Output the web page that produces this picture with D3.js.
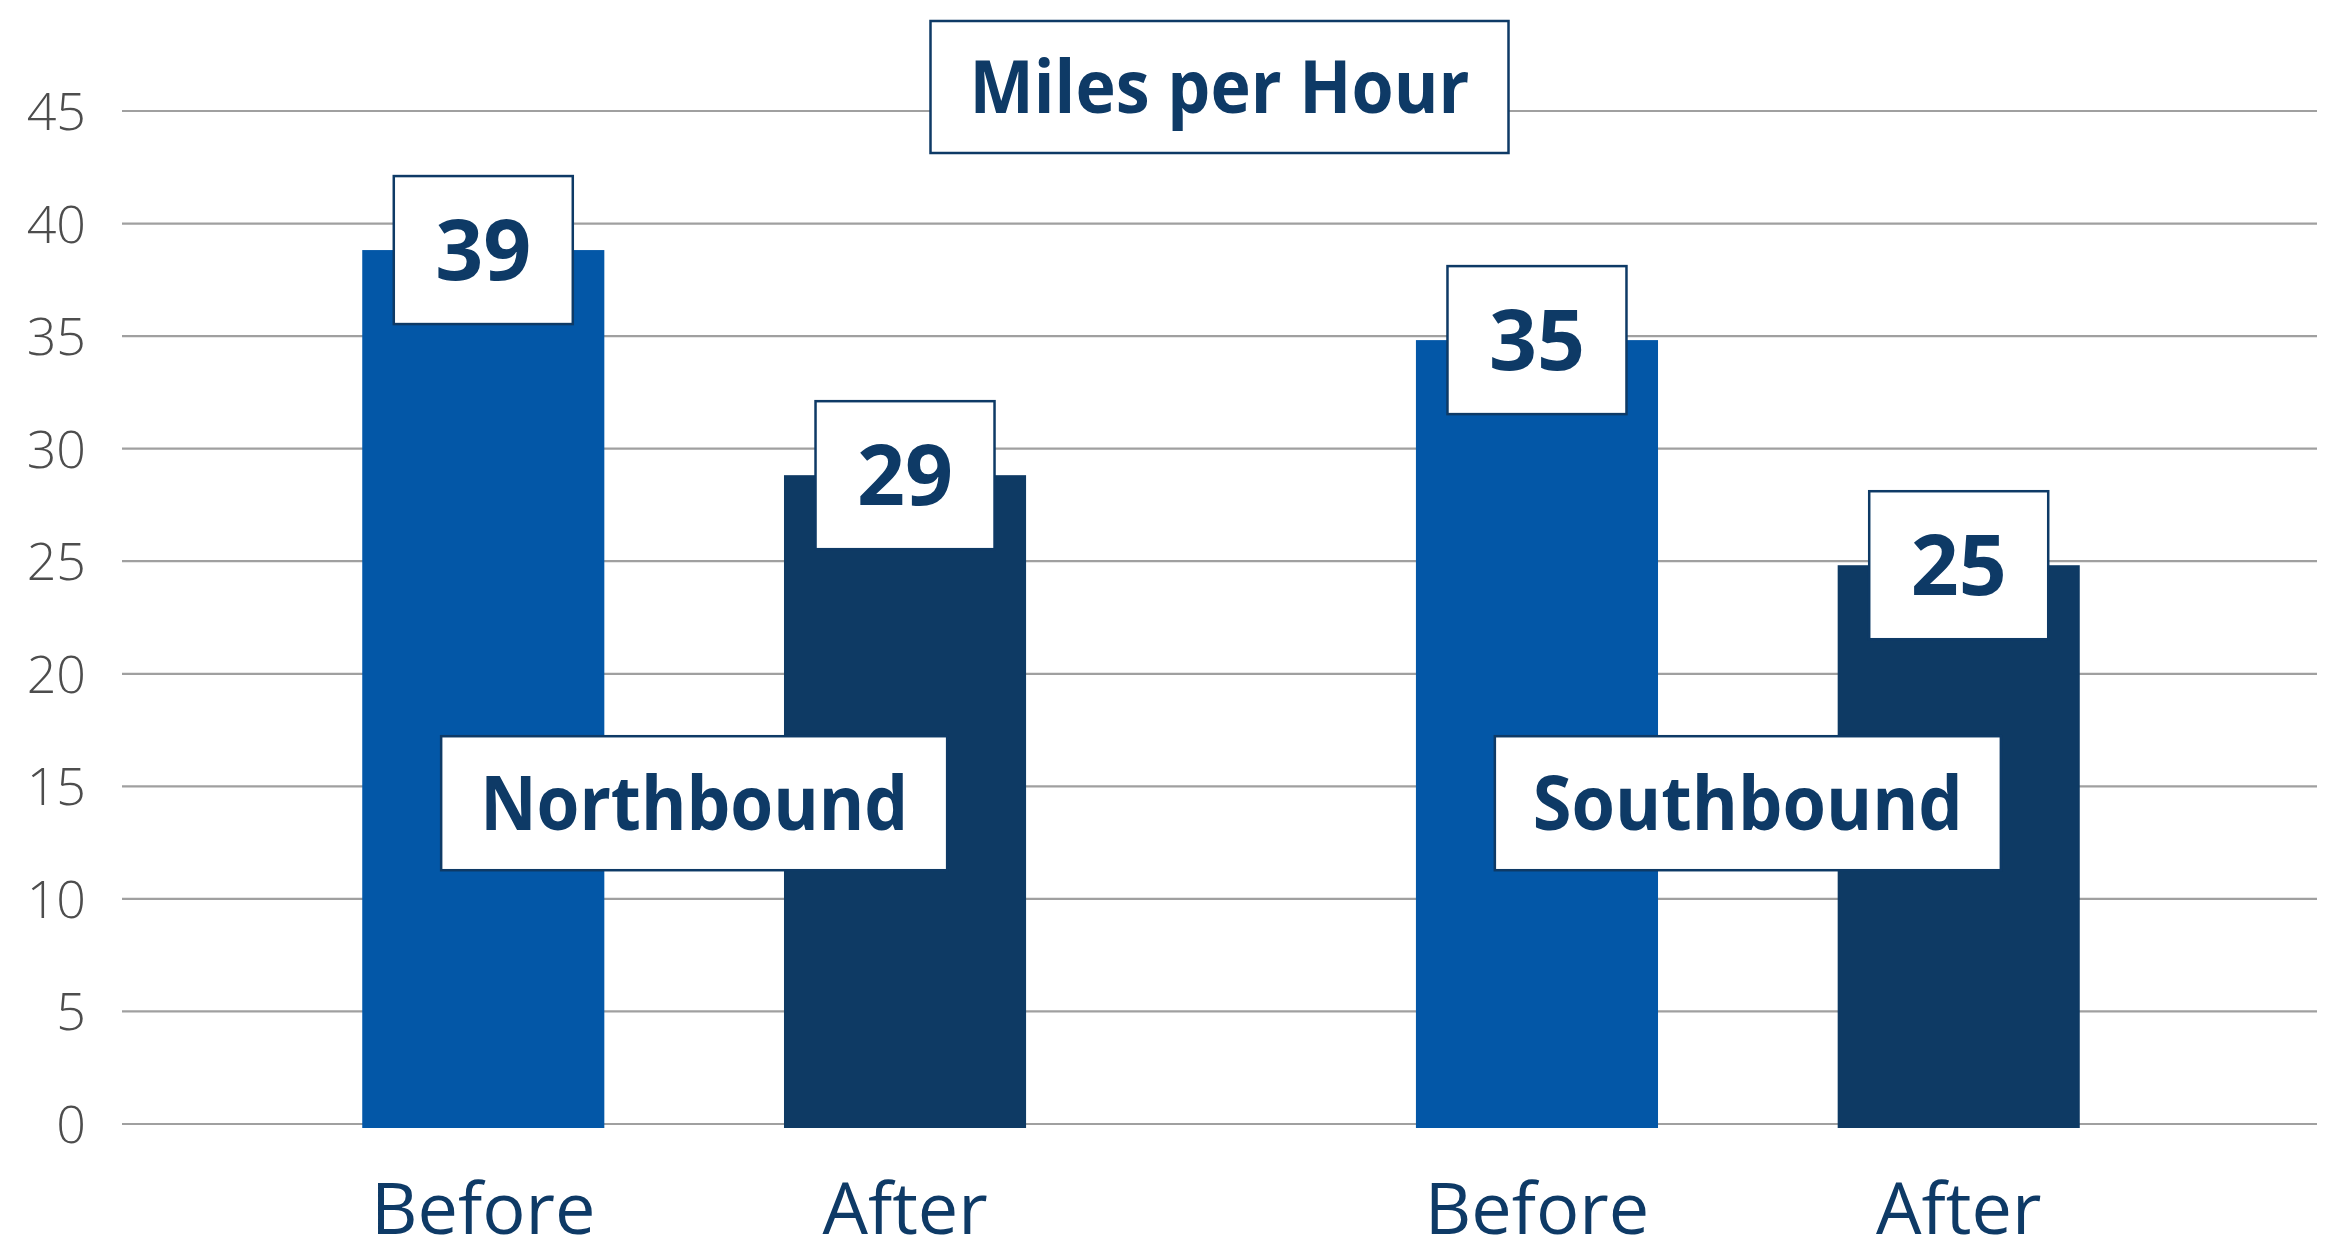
<!DOCTYPE html>
<html>
<head>
<meta charset="utf-8">
<script src="https://cdn.jsdelivr.net/npm/d3@7"></script>
<style>
  html, body { margin: 0; padding: 0; background: #fff; }
  svg { display: block; font-family: "Open Sans", sans-serif; }
</style>
</head>
<body>
<svg id="chart" width="2336" height="1246"></svg>
<script>
const groups = ["Northbound", "Southbound"];
const periods = ["Before", "After"];
const northbound = [39, 29];
const southbound = [35, 25];
const yTicks = [0, 5, 10, 15, 20, 25, 30, 35, 40, 45];
const title = "Miles per Hour";

const values = { Northbound: northbound, Southbound: southbound };
const colors = { Before: "#0357a7", After: "#0e3a64" };
const navy = "#0e3a66";

const svg = d3.select("#chart");
const left = 122, right = 2317;
const barShift = 4; // bars sit a few px lower than the grid in the original

const y = d3.scaleLinear().domain([0, 45]).range([1124, 111]);

// outer band = direction, inner band = before / after
const x0 = d3.scaleBand().domain(groups).range([left, right + 3])
    .paddingInner(0.37).paddingOuter(0.228);
const x1 = d3.scaleBand().domain(periods).range([0, x0.bandwidth()])
    .paddingInner(0.426).paddingOuter(0);

// gridlines
svg.append("g")
    .selectAll("line")
    .data(yTicks)
    .join("line")
    .attr("x1", left).attr("x2", right)
    .attr("y1", d => y(d)).attr("y2", d => y(d))
    .attr("stroke", "#a0a0a0")
    .attr("stroke-width", 2.2);

// tick labels
svg.append("g")
    .selectAll("text")
    .data(yTicks)
    .join("text")
    .attr("x", 86)
    .attr("y", d => y(d) + 19)
    .attr("text-anchor", "end")
    .attr("font-size", 52)
    .attr("font-weight", 300)
    .attr("fill", "#4d4d4d")
    .text(d => d);

const rows = [];
groups.forEach(g => {
    periods.forEach((p, i) => rows.push({ group: g, period: p, value: values[g][i] }));
});

// bars
svg.append("g")
    .selectAll("rect")
    .data(rows)
    .join("rect")
    .attr("x", d => x0(d.group) + x1(d.period))
    .attr("width", x1.bandwidth())
    .attr("y", d => y(d.value) + barShift)
    .attr("height", d => y(0) - y(d.value))
    .attr("fill", d => colors[d.period]);

// x labels
svg.append("g")
    .selectAll("text")
    .data(rows)
    .join("text")
    .attr("x", d => x0(d.group) + x1(d.period) + x1.bandwidth() / 2)
    .attr("y", 1234)
    .attr("text-anchor", "middle")
    .attr("font-size", 72)
    .attr("fill", navy)
    .text(d => d.period);

// helper for boxed labels
function boxLabel(cx, cy, w, h, txt, size, textLen) {
    const g = svg.append("g");
    g.append("rect")
        .attr("x", cx - w / 2).attr("y", cy - h / 2)
        .attr("width", w).attr("height", h)
        .attr("fill", "#fff")
        .attr("stroke", navy)
        .attr("stroke-width", 2.5);
    const t = g.append("text")
        .attr("x", cx)
        .attr("y", cy + size * 0.714 / 2)
        .attr("text-anchor", "middle")
        .attr("font-size", size)
        .attr("font-weight", 700)
        .attr("fill", navy)
        .text(txt);
    if (textLen) t.attr("textLength", textLen).attr("lengthAdjust", "spacingAndGlyphs");
}

// value boxes on top of the bars
rows.forEach(d => {
    boxLabel(x0(d.group) + x1(d.period) + x1.bandwidth() / 2, y(d.value) + barShift, 179, 148, d.value, 84);
});

// direction boxes
groups.forEach(g => {
    boxLabel(x0(g) + x0.bandwidth() / 2, y(14.25), 506, 134, g, 76, g === "Northbound" ? 428 : 430);
});

// title box
boxLabel((left + right) / 2, 87, 578, 132, title, 74, 500);
</script>
</body>
</html>
